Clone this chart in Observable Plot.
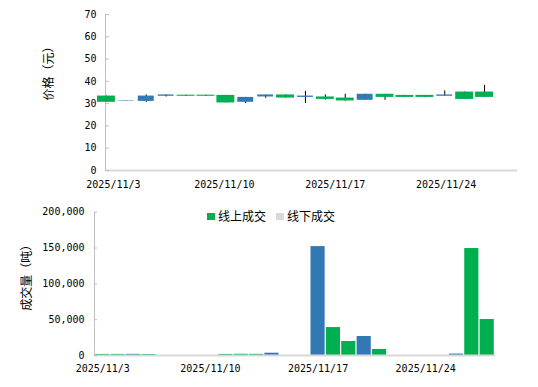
<!DOCTYPE html>
<html>
<head>
<meta charset="utf-8">
<script src="https://cdn.jsdelivr.net/npm/d3@7"></script>
<script src="https://cdn.jsdelivr.net/npm/@observablehq/plot@0.6"></script>
<style>
  html, body { margin: 0; padding: 0; background: #fff; }
  #wrap { position: relative; width: 538px; height: 387px; overflow: hidden; }
  .layer { position: absolute; left: 0; }
  .legend { position: absolute; left: 207px; top: 209px; display: flex; align-items: center;
            font-family: "Noto Sans CJK SC", sans-serif; font-size: 12px; color: #000; line-height: 14px; }
  .legend .sw { width: 8px; height: 7px; display: inline-block; margin-right: 3px; }
  .legend .item { display: flex; align-items: center; margin-right: 10px; }
</style>
</head>
<body>
<div id="wrap"></div>
<script>
// ---- categories ----
const calendarDays = [
  "2025-11-03","2025-11-04","2025-11-05","2025-11-06","2025-11-07","2025-11-08","2025-11-09",
  "2025-11-10","2025-11-11","2025-11-12","2025-11-13","2025-11-14","2025-11-15","2025-11-16",
  "2025-11-17","2025-11-18","2025-11-19","2025-11-20","2025-11-21","2025-11-22","2025-11-23",
  "2025-11-24","2025-11-25","2025-11-26","2025-11-27","2025-11-28"
];
const tickDates  = ["2025-11-03","2025-11-10","2025-11-17","2025-11-24"];
const tickLabels = ["2025/11/3","2025/11/10","2025/11/17","2025/11/24"];

// ---- price candles (trading days) ----
const tradeDays = [
  "2025-11-03","2025-11-04","2025-11-05","2025-11-06","2025-11-07",
  "2025-11-10","2025-11-11","2025-11-12","2025-11-13","2025-11-14",
  "2025-11-17","2025-11-18","2025-11-19","2025-11-20","2025-11-21",
  "2025-11-24","2025-11-25","2025-11-26","2025-11-27","2025-11-28"
];
const priceOpen  = [30.6, 31.2, 33.4, 33.9, 33.3, 33.3, 30.3, 32.8, 33.9, 32.5, 33.4, 31.9, 31.2, 34.2, 32.8, 32.8, 32.8, 33.9, 31.9, 32.8];
const priceClose = [33.4, 31.0, 31.0, 33.3, 33.8, 33.8, 33.7, 30.6, 33.0, 33.9, 32.8, 33.0, 32.5, 31.5, 34.2, 33.7, 33.7, 33.3, 35.2, 35.2];
const priceHigh  = [33.4, 31.2, 33.9, 33.9, 33.8, 33.8, 33.7, 32.8, 33.9, 33.9, 35.5, 33.9, 34.2, 34.2, 34.2, 33.7, 33.7, 35.7, 35.2, 38.2];
const priceLow   = [30.6, 31.0, 30.6, 33.0, 33.3, 33.3, 30.3, 30.0, 32.4, 32.5, 30.1, 31.6, 31.2, 31.5, 31.5, 32.8, 32.8, 33.3, 31.9, 32.8];
const candleKind = ["g","b","b","b","g","g","g","b","b","g","b","g","g","b","g","g","g","b","g","g"];
const priceTicks = [0, 10, 20, 30, 40, 50, 60, 70];

// ---- volume bars ----
const volDates = [
  "2025-11-03","2025-11-04","2025-11-05","2025-11-06",
  "2025-11-11","2025-11-12","2025-11-13","2025-11-14",
  "2025-11-17","2025-11-18","2025-11-19","2025-11-20","2025-11-21",
  "2025-11-26","2025-11-27","2025-11-28"
];
const volValues = [1500, 1500, 1600, 1400, 1500, 1700, 1600, 3200, 152000, 39000, 19500, 26500, 8400, 2000, 149300, 50200];
const volKind   = ["g","g","b","g","g","g","g","b","b","g","g","b","g","b","g","g"];
const volTicks  = [0, 50000, 100000, 150000, 200000];

const legendNames = ["线上成交", "线下成交"];
const priceTitle = "价格（元）";
const volTitle = "成交量（吨）";

// ---- styles ----
const GREEN = "#00b050", BLUE = "#3278b5", LEGEND_GRAY = "#d9d9d9";
const numFont = '"DejaVu Sans Mono", monospace';
const cjkFont = '"Noto Sans CJK SC", sans-serif';
const baseStyle = {background: "transparent", fontFamily: numFont, fontSize: "10px", color: "#000", overflow: "visible"};
const tickFmt = new Map(tickDates.map((d, i) => [d, tickLabels[i]]));

const candles = tradeDays.map((d, i) => ({date: d, open: priceOpen[i], close: priceClose[i], high: priceHigh[i], low: priceLow[i], kind: candleKind[i]}));
const vols = volDates.map((d, i) => ({date: d, v: volValues[i], kind: volKind[i]}));

const wrap = document.getElementById("wrap");
function place(el, top) { el.classList.add("layer"); el.style.top = top + "px"; wrap.appendChild(el); }

// top: axes layer (calendar band scale)
const topAxes = Plot.plot({
  width: 538, height: 190, marginLeft: 105, marginRight: 21, marginTop: 14, marginBottom: 20,
  style: baseStyle,
  x: {type: "band", domain: calendarDays, padding: 0, round: false},
  y: {domain: [0, 70]},
  marks: [
    Plot.frame({anchor: "left", stroke: "#bfbfbf"}),
    Plot.ruleY([0], {stroke: "#d9d9d9", strokeWidth: 2}),
    Plot.axisY(priceTicks, {tickSize: 4, dx: 4, stroke: "#bfbfbf", fill: "none", label: null}),
    Plot.axisY(priceTicks, {tickSize: 0, tickPadding: 9, fill: "#000", label: null}),
    Plot.axisX(tickDates, {tickSize: 0, tickPadding: 10, tickFormat: d => tickFmt.get(d), fill: "#000", label: null}),
    Plot.text([priceTitle], {frameAnchor: "left", dx: -56, dy: -22, rotate: -90, lineAnchor: "middle", textAnchor: "middle", fontFamily: cjkFont, fontSize: 12, fill: "#000"})
  ]
});
place(topAxes, 0);

// top: candle layer (trading-day band scale)
const topCandles = Plot.plot({
  width: 538, height: 190, marginLeft: 95, marginRight: 43, marginTop: 14, marginBottom: 20,
  style: baseStyle,
  x: {type: "band", domain: tradeDays, padding: 0.1, round: false, axis: null},
  y: {domain: [0, 70], axis: null},
  color: {domain: ["g", "b"], range: [GREEN, BLUE]},
  marks: [
    Plot.ruleX(candles, {x: "date", y1: "low", y2: "high", stroke: "#000", strokeWidth: 1}),
    Plot.barY(candles.filter(d => d.kind === "g"), {x: "date", y1: "open", y2: "close", fill: "kind"}),
    Plot.barY(candles.filter(d => d.kind === "b"), {x: "date", y1: "open", y2: "close", fill: "kind", insetLeft: 1, insetRight: 1})
  ]
});
place(topCandles, 0);

// bottom: volume
const bottom = Plot.plot({
  width: 538, height: 197, marginLeft: 94, marginRight: 43, marginTop: 21.7, marginBottom: 32,
  style: baseStyle,
  x: {type: "band", domain: calendarDays, padding: 0.08, round: false},
  y: {domain: [0, 200000]},
  color: {domain: ["g", "b"], range: [GREEN, BLUE]},
  marks: [
    Plot.frame({anchor: "left", stroke: "#bfbfbf"}),
    Plot.barY(vols, {x: "date", y: "v", fill: "kind"}),
    Plot.ruleY([0], {stroke: "#d9d9d9", strokeWidth: 2}),
    Plot.axisY(volTicks, {tickSize: 3, dx: 3, stroke: "#bfbfbf", fill: "none", label: null}),
    Plot.axisY(volTicks, {tickSize: 0, tickPadding: 10, tickFormat: d3.format(","), fill: "#000", label: null}),
    Plot.axisX(tickDates, {tickSize: 0, tickPadding: 9, tickFormat: d => tickFmt.get(d), fill: "#000", label: null}),
    Plot.text([volTitle], {frameAnchor: "left", dx: -67, dy: -9, rotate: -90, lineAnchor: "middle", textAnchor: "middle", fontFamily: cjkFont, fontSize: 12, fill: "#000"})
  ]
});
place(bottom, 190);

// legend
const lg = document.createElement("div");
lg.className = "legend";
[[legendNames[0], GREEN], [legendNames[1], LEGEND_GRAY]].forEach(([name, c]) => {
  const it = document.createElement("span"); it.className = "item";
  const sw = document.createElement("span"); sw.className = "sw"; sw.style.background = c;
  const tx = document.createElement("span"); tx.textContent = name;
  it.appendChild(sw); it.appendChild(tx); lg.appendChild(it);
});
wrap.appendChild(lg);
</script>
</body>
</html>
